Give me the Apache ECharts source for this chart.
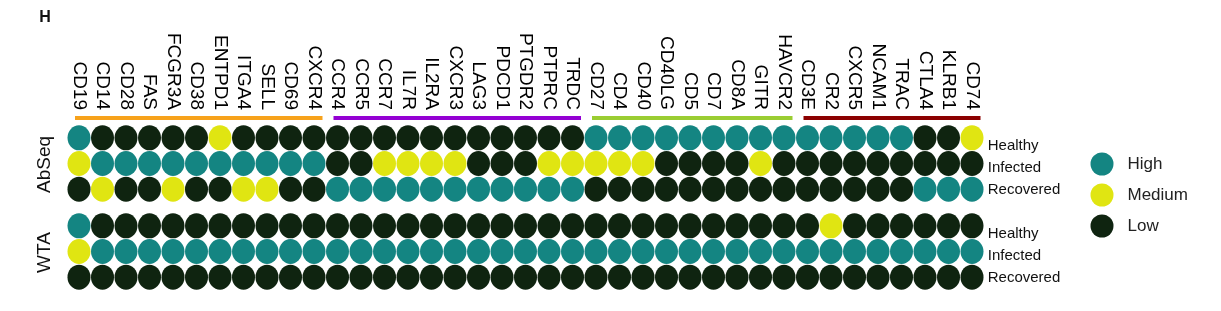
<!DOCTYPE html>
<html>
<head>
<meta charset="utf-8">
<script src="https://cdn.jsdelivr.net/npm/echarts@6/dist/echarts.min.js"></script>
<style>
  html, body { margin: 0; padding: 0; background: #ffffff; }
  #chart { width: 1221px; height: 311px; }
</style>
</head>
<body>
<div id="chart"></div>
<script>
// ---- Data ----
const genes = ['CD19','CD14','CD28','FAS','FCGR3A','CD38','ENTPD1','ITGA4','SELL','CD69','CXCR4',
  'CCR4','CCR5','CCR7','IL7R','IL2RA','CXCR3','LAG3','PDCD1','PTGDR2','PTPRC','TRDC',
  'CD27','CD4','CD40','CD40LG','CD5','CD7','CD8A','GITR','HAVCR2',
  'CD3E','CR2','CXCR5','NCAM1','TRAC','CTLA4','KLRB1','CD74'];
const conditions = ['Healthy', 'Infected', 'Recovered'];
const levels = ['High', 'Medium', 'Low'];
const groupNames = ['AbSeq', 'WTA'];
// gene groups (first and last gene of each coloured bar)
const geneGroups = [
  ['CD19', 'CXCR4'],
  ['CCR4', 'TRDC'],
  ['CD27', 'HAVCR2'],
  ['CD3E', 'CD74']
];
// H = High, M = Medium, L = Low (one letter per gene, in gene order)
const abseqHealthy   = 'H L L L L L M L L L L  L L L L L L L L L L L  H H H H H H H H H  H H H H H L L M'.split(/\s+/);
const abseqInfected  = 'M H H H H H H H H H H  L L M M M M L L L M M  M M M L L L L M L  L L L L L L L L'.split(/\s+/);
const abseqRecovered = 'L M L L M L L M M L L  H H H H H H H H H H H  L L L L L L L L L  L L L L L H H H'.split(/\s+/);
const wtaHealthy     = 'H L L L L L L L L L L  L L L L L L L L L L L  L L L L L L L L L  L M L L L L L L'.split(/\s+/);
const wtaInfected    = 'M H H H H H H H H H H  H H H H H H H H H H H  H H H H H H H H H  H H H H H H H H'.split(/\s+/);
const wtaRecovered   = 'L L L L L L L L L L L  L L L L L L L L L L L  L L L L L L L L L  L L L L L L L L'.split(/\s+/);

// ---- Styles ----
const levelColors = { High: '#148582', Medium: '#e0e512', Low: '#0f2410' };
const groupColors = ['#f7a21b', '#9400d3', '#9acd32', '#8b0000'];
const codeToLevel = { H: 'High', M: 'Medium', L: 'Low' };

const groupRows = [
  [abseqHealthy, abseqInfected, abseqRecovered],
  [wtaHealthy, wtaInfected, wtaRecovered]
];

function buildData(rows, level) {
  const out = [];
  rows.forEach((row, r) => {
    row.forEach((code, g) => {
      if (codeToLevel[code] === level) out.push([genes[g], conditions[r]]);
    });
  });
  return out;
}

const gridLeft = 67.25, gridWidth = 916.5, gridHeight = 77;
const grids = [
  { left: gridLeft, width: gridWidth, top: 125, height: gridHeight },
  { left: gridLeft, width: gridWidth, top: 213, height: gridHeight }
];
const font = '"Liberation Sans", Arial, sans-serif';

const xAxes = [0, 1].map(i => ({
  type: 'category', gridIndex: i, data: genes, position: 'top',
  show: i === 0,
  axisLine: { show: false }, axisTick: { show: false }, splitLine: { show: false },
  axisLabel: { rotate: 90, margin: 15, fontSize: 19, color: '#000', fontFamily: font, interval: 0 }
}));

const yAxes = [0, 1].map(i => ({
  type: 'category', gridIndex: i, data: conditions, inverse: true, position: 'right',
  axisLine: { show: false }, axisTick: { show: false }, splitLine: { show: false },
  axisLabel: {
    margin: 4, fontSize: 15, color: '#111', fontFamily: font, interval: 0,
    formatter: v => '{' + v.toLowerCase() + '|' + v + '}',
    rich: {
      healthy: { fontSize: 15, fontFamily: font, color: '#111', padding: [16, 0, 0, 0] },
      infected: { fontSize: 15, fontFamily: font, color: '#111', padding: [9, 0, 0, 0] },
      recovered: { fontSize: 15, fontFamily: font, color: '#111', padding: [2, 0, 0, 0] }
    }
  }
}));

const series = [];
groupRows.forEach((rows, gi) => {
  levels.forEach(level => {
    series.push({
      name: level, type: 'scatter', xAxisIndex: gi, yAxisIndex: gi,
      symbol: 'circle', symbolSize: [23, 25],
      itemStyle: { color: levelColors[level], opacity: 1 },
      emphasis: { disabled: true },
      data: buildData(rows, level)
    });
  });
});

const chart = echarts.init(document.getElementById('chart'), null, { renderer: 'canvas' });
chart.setOption({
  animation: false,
  backgroundColor: '#ffffff',
  grid: grids,
  xAxis: xAxes,
  yAxis: yAxes,
  legend: {
    orient: 'vertical', left: 1085.5, top: 147.5,
    data: levels.map(l => ({ name: l, icon: 'circle', itemStyle: { color: levelColors[l] } })),
    itemWidth: 23, itemHeight: 25, itemGap: 8,
    textStyle: { fontSize: 17, color: '#222', fontFamily: font, padding: [0, 0, 0, 9] },
    selectedMode: false
  },
  series: series
});

// Coloured gene-group bars, group names and panel letter, placed via the axes
const graphics = [];
geneGroups.forEach((grp, i) => {
  const x1 = chart.convertToPixel({ xAxisIndex: 0 }, grp[0]) - 4;
  const x2 = chart.convertToPixel({ xAxisIndex: 0 }, grp[1]) + 8.5;
  graphics.push({
    type: 'line', shape: { x1: x1, y1: 118, x2: x2, y2: 118 },
    style: { stroke: groupColors[i], lineWidth: 4 }, silent: true
  });
});
groupNames.forEach((name, gi) => {
  const yTop = chart.convertToPixel({ yAxisIndex: gi }, conditions[0]);
  const yBot = chart.convertToPixel({ yAxisIndex: gi }, conditions[2]);
  graphics.push({
    type: 'text', x: 45, y: (yTop + yBot) / 2 + 1, rotation: Math.PI / 2,
    style: { text: name, fontSize: 19, fontFamily: font, fill: '#111', align: 'center', verticalAlign: 'middle' },
    silent: true
  });
});
graphics.push({
  type: 'text', x: 45, y: 18,
  style: { text: 'H', fontSize: 16, fontWeight: 'bold', fontFamily: font, fill: '#111', align: 'center', verticalAlign: 'middle' },
  silent: true
});
chart.setOption({ graphic: graphics });
</script>
</body>
</html>
